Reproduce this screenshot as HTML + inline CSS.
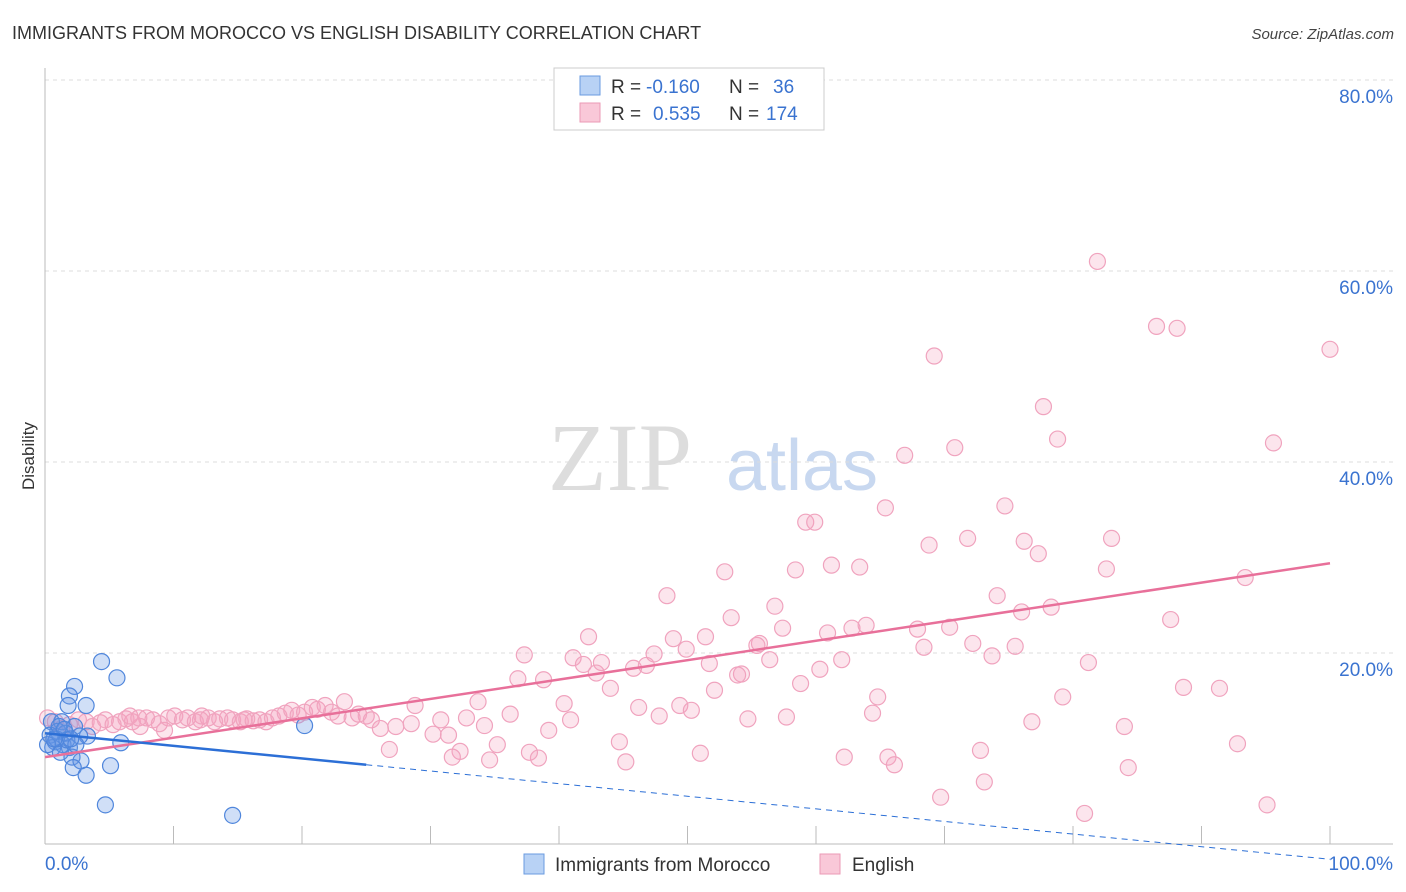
<!DOCTYPE html>
<html><head><meta charset="utf-8"><style>
body{margin:0;background:#fff;font-family:"Liberation Sans",sans-serif}
svg{display:block}
</style></head><body>
<svg width="1406" height="892">
<text x="12" y="39" font-size="18" fill="#333">IMMIGRANTS FROM MOROCCO VS ENGLISH DISABILITY CORRELATION CHART</text>
<text x="1394" y="39" font-size="15" fill="#444" text-anchor="end" font-style="italic">Source: ZipAtlas.com</text>
<text x="620" y="490" font-size="96" fill="#ddd" font-family="Liberation Serif" text-anchor="middle">ZIP</text>
<text x="802" y="490" font-size="72" fill="#c8d8f0" text-anchor="middle">atlas</text>
<g id="grid"></g>
<g id="axes"></g>
<g id="pts"></g>
<g id="lines"></g>
<text transform="translate(34,456) rotate(-90)" font-size="17" fill="#333" text-anchor="middle">Disability</text>
<g>
<rect x="554" y="68" width="270" height="62" fill="#fff" stroke="#ccc"/>
<rect x="580" y="76" width="20" height="19" fill="#b8d2f5" stroke="#6a9be0"/>
<rect x="580" y="103" width="20" height="19" fill="#f9c8d8" stroke="#eb9ab6"/>
<text y="93" font-size="19" fill="#333"><tspan x="611">R =</tspan><tspan x="646" fill="#3a73d0">-0.160</tspan><tspan x="729">N =</tspan><tspan x="773" fill="#3a73d0">36</tspan></text>
<text y="120" font-size="19" fill="#333"><tspan x="611">R =</tspan><tspan x="653" fill="#3a73d0">0.535</tspan><tspan x="729">N =</tspan><tspan x="766" fill="#3a73d0">174</tspan></text>
</g>
<g>
<rect x="524" y="854" width="20" height="20" fill="#b8d2f5" stroke="#6a9be0"/>
<text x="555" y="871" font-size="19" fill="#333">Immigrants from Morocco</text>
<rect x="820" y="854" width="20" height="20" fill="#f9c8d8" stroke="#eb9ab6"/>
<text x="852" y="871" font-size="19" fill="#333">English</text>
</g>
</svg>
<script>
const yTicks=[20,40,60,80];
const yTickLabels=["20.0%","40.0%","60.0%","80.0%"];
const xTicks=[0,10,20,30,40,50,60,70,80,90,100];
const blueX=[4.4,5.6,2.3,1.9,3.2,1.8,0.5,1.3,2.3,1.0,0.4,1.6,3.3,0.8,1.4,1.9,0.6,5.9,1.2,2.1,2.8,5.1,2.2,3.2,4.7,14.6,20.2,2.7,0.9,1.7,0.2,1.1,2.4,1.5,0.7,2.0];
const blueY=[19.1,17.4,16.5,15.5,14.5,14.5,12.8,12.8,12.3,11.8,11.4,11.6,11.3,10.7,10.4,10.1,10.1,10.6,9.6,9.1,8.7,8.2,8.0,7.2,4.1,3.0,12.4,11.3,11.0,10.9,10.4,12.3,10.4,12.0,11.0,11.0];
const pinkX=[81.9,86.5,88.1,100,69.2,77.7,78.8,95.6,70.8,66.9,74.7,65.4,59.2,59.9,71.8,83.0,68.8,76.2,77.3,61.2,63.4,58.4,52.9,82.6,93.4,48.4,74.1,56.8,76.0,78.3,53.4,87.6,63.9,62.8,57.4,67.9,70.4,60.9,42.3,48.9,51.4,55.6,55.4,72.2,75.5,68.4,49.9,47.4,37.3,41.1,43.3,56.4,62.0,73.7,81.2,51.7,41.9,45.8,46.8,60.3,42.9,54.2,53.9,36.8,38.8,58.8,44.0,52.1,88.6,91.4,64.8,79.2,33.7,28.8,40.4,46.2,49.4,50.3,23.3,47.8,57.7,64.4,54.7,36.2,40.9,30.8,32.8,76.8,84.0,34.2,39.2,28.5,27.3,31.4,30.2,44.7,92.8,32.3,26.8,35.2,37.7,51.0,72.8,31.7,38.4,34.6,62.2,65.6,45.2,66.1,84.3,73.1,69.7,95.1,80.9,
0.2,0.8,1.3,1.9,2.6,3.2,3.7,4.3,4.7,5.3,5.8,6.3,6.8,7.4,7.9,8.4,8.9,9.6,10.1,10.7,11.1,11.7,12.2,12.7,13.2,13.6,14.2,14.6,15.2,15.7,16.2,16.7,17.2,17.7,18.2,18.7,19.2,19.7,20.2,20.8,21.2,21.8,22.3,22.8,23.9,24.4,25.0,25.4,26.1,6.6,9.3,7.3,12.1,15.5];
const pinkY=[61.0,54.2,54.0,51.8,51.1,45.8,42.4,42.0,41.5,40.7,35.4,35.2,33.7,33.7,32.0,32.0,31.3,31.7,30.4,29.2,29.0,28.7,28.5,28.8,27.9,26.0,26.0,24.9,24.3,24.8,23.7,23.5,22.9,22.6,22.6,22.5,22.7,22.1,21.7,21.5,21.7,21.0,20.8,21.0,20.7,20.6,20.4,19.9,19.8,19.5,19.0,19.3,19.3,19.7,19.0,18.9,18.8,18.4,18.7,18.3,17.9,17.8,17.7,17.3,17.2,16.8,16.3,16.1,16.4,16.3,15.4,15.4,14.9,14.5,14.7,14.3,14.5,14.0,14.9,13.4,13.3,13.7,13.1,13.6,13.0,13.0,13.2,12.8,12.3,12.4,11.9,12.6,12.3,11.4,11.5,10.7,10.5,9.7,9.9,10.4,9.6,9.5,9.8,9.1,9.0,8.8,9.1,9.1,8.6,8.3,8.0,6.5,4.9,4.1,3.2,
13.2,12.8,12.1,12.5,13.0,12.8,12.3,12.7,13.0,12.5,12.8,13.1,12.8,12.3,13.2,13.0,12.6,13.2,13.4,13.0,13.2,12.8,13.4,13.2,12.8,13.1,13.2,13.0,12.8,13.1,12.9,13.0,12.8,13.2,13.4,13.7,14.0,13.5,13.8,14.3,14.1,14.5,13.8,13.4,13.2,13.6,13.4,13.0,12.1,13.4,11.9,13.2,13.0,13.0];
const pinkTrend=[9.1,29.4];
const blueTrend=[11.6,-1.6];
const X=v=>45+v*12.85, Y=v=>844-v*9.55;
const NS="http://www.w3.org/2000/svg";
function mk(tag,attrs,parent){const e=document.createElementNS(NS,tag);for(const k in attrs)e.setAttribute(k,attrs[k]);document.getElementById(parent).appendChild(e);return e;}
yTicks.forEach((t,i)=>{
 const l=mk('line',{x1:45,x2:1393,y1:Y(t),y2:Y(t),stroke:'#ddd','stroke-dasharray':'4,4'},'grid');
 
 
 const tx=mk('text',{x:1393,y:Y(t)+23,'font-size':19,fill:'#3a73d0','text-anchor':'end'},'grid');
 tx.textContent=yTickLabels[i];
 
 
});
let a=mk('line',{x1:45,x2:1393,y1:844,y2:844,stroke:'#bbb'},'axes');


a=mk('line',{x1:45,x2:45,y1:68,y2:844,stroke:'#bbb'},'axes');


xTicks.forEach(t=>{const l=mk('line',{x1:X(t),x2:X(t),y1:826,y2:844,stroke:'#bbb'},'axes');
 
 });
let t0=mk('text',{x:45,y:870,'font-size':19,fill:'#3a73d0'},'axes');t0.textContent='0.0%';


let t1=mk('text',{x:1393,y:870,'font-size':19,fill:'#3a73d0','text-anchor':'end'},'axes');t1.textContent='100.0%';


pinkX.forEach((x,i)=>{const c=mk('circle',{cx:X(x),cy:Y(pinkY[i]),r:8,fill:'rgba(245,160,190,0.28)',stroke:'#f0a3be','stroke-width':1.2},'pts');
 
 });
blueX.forEach((x,i)=>{const c=mk('circle',{cx:X(x),cy:Y(blueY[i]),r:8,fill:'rgba(100,150,230,0.3)',stroke:'#4f86dc','stroke-width':1.2},'pts');
 
 });
let pl=mk('line',{x1:X(0),y1:Y(pinkTrend[0]),x2:X(100),y2:Y(pinkTrend[1]),stroke:'#e8709a','stroke-width':2.5},'lines');


const bAt=x=>blueTrend[0]+(blueTrend[1]-blueTrend[0])*x/100;
let bl=mk('line',{x1:X(0),y1:Y(bAt(0)),x2:X(25),y2:Y(bAt(25)),stroke:'#2c6fd6','stroke-width':2.5},'lines');


let bd=mk('line',{x1:X(25),y1:Y(bAt(25)),x2:X(100),y2:Y(bAt(100)),stroke:'#2c6fd6','stroke-width':1,'stroke-dasharray':'6,5'},'lines');


</script>
</body></html>
